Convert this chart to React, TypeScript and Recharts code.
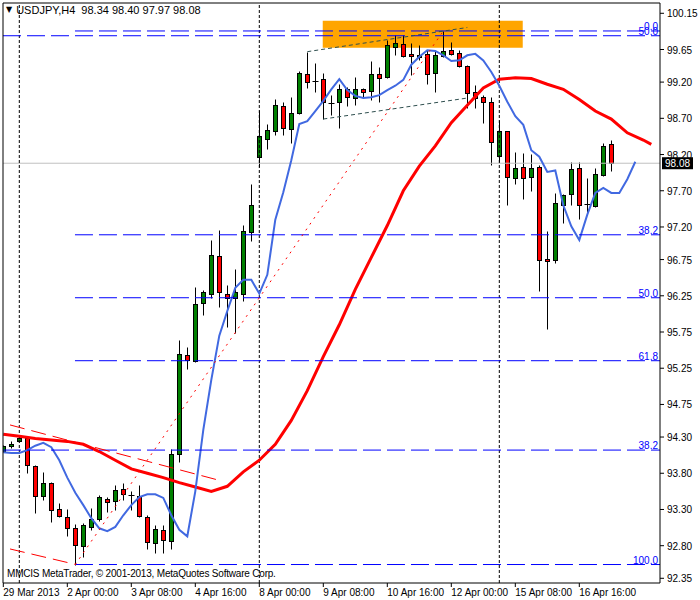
import React from 'react';
import { ComposedChart, Bar, Line, XAxis, YAxis, ReferenceLine, ReferenceArea } from 'recharts';

// USDJPY H4, one entry per bar (bar 0 = 29 Mar 16:00)
const opens = [
  94.11, 94.17, 94.25, 94.28, 93.90, 93.48, 93.66, 93.30, 93.19, 93.04,
  92.80, 93.06, 93.17, 93.45, 93.42, 93.58, 93.50, 93.49, 93.20, 92.84,
  93.01, 92.86, 94.07, 95.43, 95.35, 96.15, 96.28, 96.80, 96.28, 96.22,
  96.28, 97.13, 98.17, 98.42, 98.53, 98.87, 98.55, 98.77, 99.31, 99.22,
  99.24, 98.91, 98.92, 99.10, 98.98, 99.10, 99.08, 99.31, 99.27, 99.69,
  99.73, 99.59, 99.54, 99.59, 99.32, 99.56, 99.64, 99.60, 99.42, 99.06,
  99.00, 98.93, 98.18, 98.52, 97.87, 98.03, 97.89, 98.03, 96.76, 96.74,
  97.51, 97.65, 98.01, 97.52, 97.49, 97.92, 98.34,
];
const highs = [
  94.19, 94.24, 94.33, 94.30, 93.92, 93.82, 93.68, 93.39, 93.30, 93.10,
  93.12, 93.32, 93.50, 93.47, 93.64, 93.66, 93.55, 93.64, 93.22, 93.09,
  93.09, 94.13, 95.64, 95.54, 96.37, 96.33, 97.02, 97.16, 96.40, 96.62,
  97.23, 97.79, 98.81, 98.62, 98.96, 98.93, 98.99, 99.35, 99.62, 99.47,
  99.32, 99.02, 99.18, 99.13, 99.27, 99.12, 99.49, 99.41, 99.78, 99.85,
  99.85, 99.74, 99.71, 99.64, 99.64, 99.91, 99.76, 99.64, 99.44, 99.16,
  99.02, 99.00, 98.67, 98.53, 98.24, 98.22, 98.21, 98.05, 97.14, 97.67,
  97.66, 98.10, 98.10, 97.87, 98.01, 98.36, 98.40,
];
const lows = [
  94.09, 94.15, 94.23, 93.81, 93.25, 93.43, 93.13, 93.19, 92.93, 92.54,
  92.65, 93.02, 93.14, 93.26, 93.29, 93.43, 93.29, 93.20, 92.76, 92.70,
  92.70, 92.76, 93.96, 95.24, 95.34, 95.99, 96.22, 96.10, 95.82, 95.74,
  96.18, 97.01, 98.03, 98.27, 98.47, 98.47, 98.36, 98.76, 99.12, 99.07,
  98.69, 98.75, 98.56, 98.87, 98.88, 98.98, 98.95, 98.92, 99.26, 99.57,
  99.54, 99.30, 99.50, 99.17, 99.07, 99.55, 99.57, 99.41, 98.84, 98.84,
  98.63, 98.06, 98.10, 97.51, 97.79, 97.58, 97.69, 96.32, 95.79, 96.70,
  97.25, 97.50, 97.31, 97.37, 97.48, 97.91, 97.97,
];
const closes = [
  94.17, 94.21, 94.29, 93.91, 93.49, 93.66, 93.29, 93.21, 93.05, 92.81,
  93.09, 93.17, 93.47, 93.40, 93.57, 93.51, 93.50, 93.21, 92.85, 93.03,
  92.88, 94.06, 95.44, 95.37, 96.14, 96.30, 96.81, 96.30, 96.22, 96.30,
  97.14, 97.50, 98.45, 98.54, 98.89, 98.56, 98.77, 99.32, 99.20, 99.22,
  98.92, 98.91, 99.10, 98.99, 99.11, 99.07, 99.31, 99.26, 99.71, 99.74,
  99.56, 99.56, 99.57, 99.31, 99.57, 99.63, 99.59, 99.42, 99.05, 98.98,
  98.92, 98.37, 98.52, 97.89, 98.02, 97.87, 98.01, 96.75, 96.73, 97.53,
  97.64, 98.00, 97.51, 97.52, 97.93, 98.32, 98.08,
];

// fast moving average (blue), bars 0..79
const blueMa = [
  94.09, 94.08, 94.08, 94.12, 94.18, 94.22, 94.16, 93.98, 93.74, 93.53,
  93.36, 93.18, 93.04, 93.00, 93.06, 93.22, 93.36, 93.47, 93.51, 93.51,
  93.46, 93.22, 93.02, 92.93, 93.55, 94.40, 95.09, 95.70, 96.04, 96.36,
  96.47, 96.47, 96.28, 96.54, 97.30, 97.68, 98.12, 98.62, 98.66, 98.80,
  98.94, 99.10, 99.24, 99.09, 99.01, 98.98, 98.99, 99.02, 99.09, 99.15,
  99.23, 99.44, 99.55, 99.64, 99.63, 99.57, 99.49, 99.50, 99.57, 99.59,
  99.50, 99.34, 99.15, 98.93, 98.73, 98.61, 98.26, 98.17, 97.96, 97.98,
  97.50, 97.21, 97.02, 97.37, 97.67, 97.74, 97.67, 97.67, 97.86, 98.10,
];

// slow moving average (red), read every other bar
const redMaBars = [
  0, 2, 4, 6, 8, 10, 12, 14, 16, 18, 20, 22, 24, 26, 28, 30, 32, 34, 36, 38,
  40, 42, 44, 46, 48, 50, 52, 54, 56, 58, 60, 62, 64, 66, 68, 70, 72, 74, 76, 78, 80, 81,
];
const redMaValues = [
  94.34, 94.31, 94.28, 94.26, 94.24, 94.20, 94.10, 93.98, 93.86, 93.80,
  93.74, 93.67, 93.61, 93.55, 93.62, 93.82, 93.98, 94.20, 94.53, 94.94,
  95.41, 95.85, 96.34, 96.78, 97.22, 97.70, 98.04, 98.32, 98.64, 98.88,
  99.12, 99.24, 99.26, 99.25, 99.17, 99.10, 98.96, 98.80, 98.69, 98.50, 98.40, 98.34,
];

const xTickBars = [0, 8, 16, 24, 32, 40, 48, 56, 64, 72];
const xTickLabels = [
  '29 Mar 2013', '2 Apr 00:00', '3 Apr 08:00', '4 Apr 16:00', '8 Apr 00:00',
  '9 Apr 08:00', '10 Apr 16:00', '12 Apr 00:00', '15 Apr 08:00', '16 Apr 16:00',
];
const yTicks = [
  100.15, 99.65, 99.2, 98.7, 98.2, 97.7, 97.2, 96.75, 96.25, 95.75,
  95.25, 94.75, 94.3, 93.8, 93.3, 92.8, 92.35,
];
const weekStartBars = [2, 32, 62];

// fibo retracement drawn from bar 9 low to bar 55 high
const fiboStartBar = 9;
const fiboHigh = 99.906;
const fiboLow = 92.54;
const fiboRatios = [0, 38.2, 50, 61.8, 100];
// second fibo object, only two levels visible
const fibo2Labels = ['50.0', '38.2'];
const fibo2Prices = [99.84, 94.12];

const bidPrice = 98.08;
const X_MIN = -0.0375;
const X_MAX = 82.0875;
const Y_MIN = 92.285;
const Y_MAX = 100.292;

const FONT = "'Liberation Sans Narrow', 'Liberation Sans', Arial, sans-serif";

const rows: any[] = Array.from({ length: 82 }, (_, i) => ({
  bar: i,
  o: opens[i],
  h: highs[i],
  l: lows[i],
  c: closes[i],
  blue: blueMa[i],
  red: undefined,
}));
redMaBars.forEach((b, k) => {
  rows[b].red = redMaValues[k];
});

const Candle = (props: any) => {
  const { x, y, width, height, payload } = props;
  if (payload == null || payload.o == null || !height) return null;
  const k = height / (payload.h - payload.l);
  const cx = Math.round(x + width / 2) + 0.5;
  const yo = y + (payload.h - payload.o) * k;
  const yc = y + (payload.h - payload.c) * k;
  const top = Math.round(Math.min(yo, yc)) + 0.5;
  const bot = Math.round(Math.max(yo, yc)) + 0.5;
  const wickTop = Math.round(y) + 0.5;
  const wickBot = Math.round(y + height) + 0.5;
  const up = payload.c > payload.o;
  const flat = payload.c === payload.o;
  return (
    <g>
      <line x1={cx} x2={cx} y1={wickTop} y2={wickBot} stroke="#000" strokeWidth={1} />
      {flat ? (
        <line x1={cx - 3} x2={cx + 3} y1={top} y2={top} stroke="#000" strokeWidth={1} />
      ) : (
        <rect
          x={cx - 2}
          y={top}
          width={4}
          height={Math.max(bot - top, 1)}
          fill={up ? '#008000' : '#ff0000'}
          stroke="#000"
          strokeWidth={1}
        />
      )}
    </g>
  );
};

const XTick = (props: any) => {
  const { x, y, payload } = props;
  const idx = xTickBars.indexOf(payload.value);
  return (
    <text x={x} y={y} dy={9} textAnchor="start" fontSize={10} fontFamily={FONT} fill="#000">
      {xTickLabels[idx]}
    </text>
  );
};

const YTick = (props: any) => {
  const { x, y, payload } = props;
  return (
    <text x={x} y={y} dy={4} textAnchor="start" fontSize={10} fontFamily={FONT} fill="#000">
      {Number(payload.value).toFixed(2)}
    </text>
  );
};

const FiboLabel = (props: any) => {
  const { viewBox, text } = props;
  if (!viewBox) return null;
  return (
    <text
      x={viewBox.x + viewBox.width - 2}
      y={viewBox.y - 1}
      textAnchor="end"
      fontSize={10}
      fontFamily={FONT}
      fill="#0000ff"
    >
      {text}
    </text>
  );
};

const PriceTag = (props: any) => {
  const { viewBox } = props;
  if (!viewBox) return null;
  const x = viewBox.x + viewBox.width + 2;
  const y = viewBox.y;
  return (
    <g>
      <rect x={x} y={y - 6} width={31} height={12} fill="#000" />
      <text x={x + 3} y={y + 4} fontSize={10} fontFamily={FONT} fill="#fff">
        {bidPrice.toFixed(2)}
      </text>
    </g>
  );
};

const fiboPrice = (r: number) => fiboHigh - (r / 100) * (fiboHigh - fiboLow);

export default function App() {
  return (
    <div style={{ position: 'absolute', left: 0, top: 0, width: 700, height: 600, background: '#fff' }}>
      <ComposedChart width={700} height={600} data={rows} margin={{ top: 3, right: 0, bottom: 0, left: 3 }}>
        <XAxis
          dataKey="bar"
          type="number"
          domain={[X_MIN, X_MAX]}
          allowDataOverflow
          ticks={xTickBars}
          interval={0}
          height={17}
          tickSize={4}
          tickMargin={0}
          stroke="#000"
          tick={<XTick />}
        />
        <YAxis
          orientation="right"
          type="number"
          domain={[Y_MIN, Y_MAX]}
          allowDataOverflow
          ticks={yTicks}
          interval={0}
          width={40}
          tickSize={4}
          tickMargin={3}
          stroke="#000"
          tick={<YTick />}
        />
        <ReferenceArea x1={39.93} x2={64.93} y1={99.675} y2={100.048} fill="#ffa500" fillOpacity={1} stroke="none" ifOverflow="visible" />
        <ReferenceLine y={bidPrice} stroke="#c0c0c0" ifOverflow="visible" label={<PriceTag />} />
        {weekStartBars.map((b) => (
          <ReferenceLine key={'w' + b} x={b} stroke="#000" strokeDasharray="3 2" ifOverflow="visible" />
        ))}
        <Bar dataKey={(d: any) => (d.h == null ? null : [d.l, d.h])} barSize={7} shape={<Candle />} isAnimationActive={false} />
        <Line dataKey="red" stroke="#ff0000" strokeWidth={3} dot={false} connectNulls isAnimationActive={false} />
        <Line dataKey="blue" stroke="#4169e1" strokeWidth={2} dot={false} connectNulls isAnimationActive={false} />
        {fiboRatios.map((r) => (
          <ReferenceLine
            key={'f' + r}
            segment={[{ x: fiboStartBar - 0.04, y: fiboPrice(r) }, { x: X_MAX, y: fiboPrice(r) }]}
            stroke="#0000ff"
            strokeDasharray="18 6"
            ifOverflow="visible"
            label={<FiboLabel text={r.toFixed(1)} />}
          />
        ))}
        {fibo2Prices.map((p, k) => (
          <ReferenceLine
            key={'g' + k}
            segment={[{ x: X_MIN, y: p }, { x: X_MAX, y: p }]}
            stroke="#0000ff"
            strokeDasharray="18 6"
            ifOverflow="visible"
            label={<FiboLabel text={fibo2Labels[k]} />}
          />
        ))}
        <ReferenceLine segment={[{ x: 9, y: 92.54 }, { x: 55, y: 99.906 }]} stroke="#ff0000" strokeDasharray="2 5" ifOverflow="visible" />
        <ReferenceLine segment={[{ x: 38, y: 99.62 }, { x: 58, y: 99.954 }]} stroke="#2f4f4f" strokeDasharray="4 3" ifOverflow="visible" />
        <ReferenceLine segment={[{ x: 40, y: 98.69 }, { x: 58, y: 98.98 }]} stroke="#2f4f4f" strokeDasharray="4 3" ifOverflow="visible" />
        <ReferenceLine segment={[{ x: 0.84, y: 94.467 }, { x: 26.84, y: 93.707 }]} stroke="#ff0000" strokeDasharray="15 7" ifOverflow="visible" />
        <ReferenceLine segment={[{ x: 0.84, y: 92.755 }, { x: 9.09, y: 92.54 }]} stroke="#ff0000" strokeDasharray="15 7" ifOverflow="visible" />
        <ReferenceLine x={X_MIN} stroke="#000" ifOverflow="visible" />
        <ReferenceLine y={Y_MAX} stroke="#000" ifOverflow="visible" />
      </ComposedChart>
      <div style={{ position: 'absolute', left: 6, top: 3, fontFamily: FONT, fontSize: 11, whiteSpace: 'pre', color: '#000', lineHeight: '14px' }}>
        <span style={{ fontFamily: 'DejaVu Sans', fontSize: 8, verticalAlign: 'top', marginRight: 4 }}>▼</span>
        USDJPY,H4  98.34 98.40 97.97 98.08
      </div>
      <div style={{ position: 'absolute', left: 7, top: 567, fontFamily: FONT, fontSize: 10, letterSpacing: -0.2, whiteSpace: 'pre', color: '#000', lineHeight: '14px' }}>
        MMCIS MetaTrader, © 2001-2013, MetaQuotes Software Corp.
      </div>
    </div>
  );
}
